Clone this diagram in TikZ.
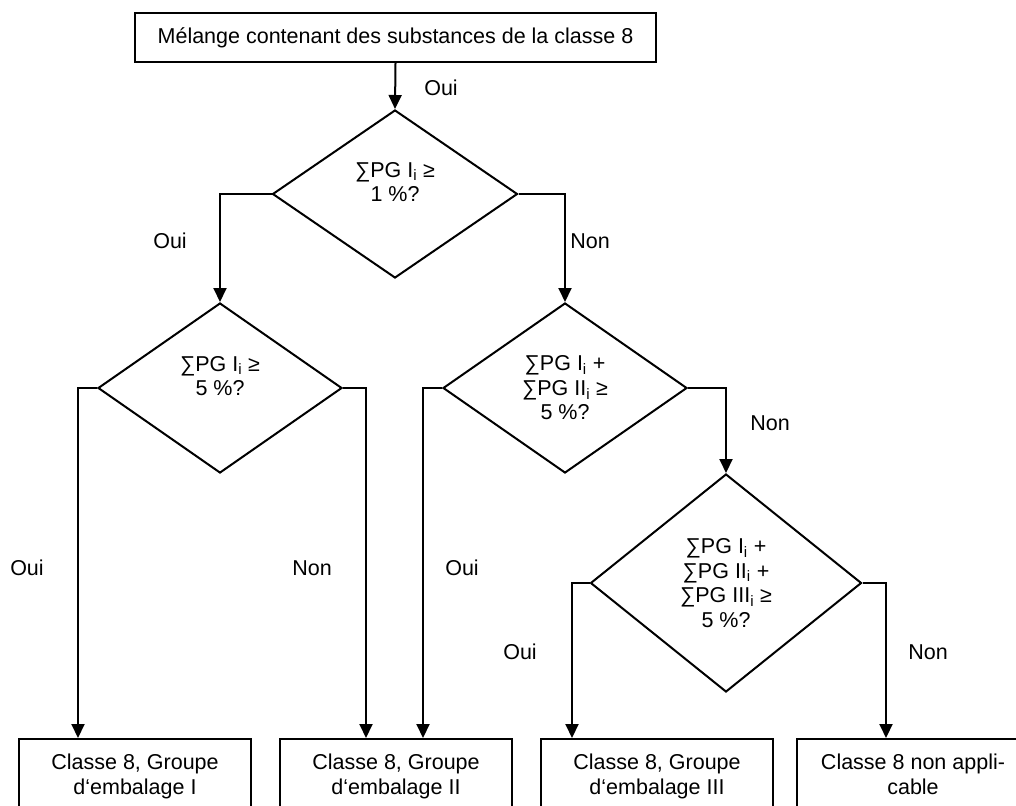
\documentclass[tikz,border=0pt]{standalone}
\usepackage{fontspec}
\setmainfont{Liberation Sans}
\usetikzlibrary{shapes.geometric,arrows.meta}
\begin{document}
\begin{tikzpicture}[x=1pt,y=-1pt,
	font=\fontsize{21.5}{24.5}\selectfont,
	line width=2pt,
	box/.style={draw, rectangle, inner sep=8pt, align=center},
	endbox/.style={box, anchor=north, inner ysep=15pt, minimum width=232pt, text depth=45pt},
	test/.style={draw, diamond, inner sep=0pt, align=center},
	arr/.style={-{Triangle[length=14pt,width=13pt]}}]
	\useasboundingbox (0,0) rectangle (1016,805);
	\clip (0,0) rectangle (1016,805);
	\node[box, minimum width=521pt, minimum height=49pt] (start) at (395.5,37.5) {Mélange contenant des substances de la classe 8};
	\node[test, minimum width=245pt, minimum height=168pt] (t1) at (395,194) {∑PG I\textsubscript{i} ≥\\1 \%?\\\mbox{}};
	\node[test, minimum width=244pt, minimum height=170pt] (t2) at (220,388) {∑PG I\textsubscript{i} ≥\\5 \%?\\\mbox{}};
	\node[test, minimum width=244pt, minimum height=170pt] (t3) at (565,388) {∑PG I\textsubscript{i} +\\∑PG II\textsubscript{i} ≥\\5 \%?};
	\node[test, minimum width=271pt, minimum height=218pt] (t4) at (726,583) {∑PG I\textsubscript{i} +\\∑PG II\textsubscript{i} +\\∑PG III\textsubscript{i} ≥\\5 \%?};
	\node[endbox] (b1) at (135,738) {Classe 8, Groupe\\d‘embalage I};
	\node[endbox] (b2) at (396,738) {Classe 8, Groupe\\d‘embalage II};
	\node[endbox] (b3) at (657,738) {Classe 8, Groupe\\d‘embalage III};
	\node[endbox] (b4) at (913,738) {Classe 8 non appli-\\cable};
	\draw[arr] (start.south) -- (t1.north);
	\draw[arr] (t1.west) -| (t2.north);
	\draw[arr] (t1.east) -| (t3.north);
	\draw[arr] (t2.west) -| ([xshift=-57pt]b1.north);
	\draw[arr] (t2.east) -| ([xshift=-30pt]b2.north);
	\draw[arr] (t3.west) -| ([xshift=27pt]b2.north);
	\draw[arr] (t3.east) -| (t4.north);
	\draw[arr] (t4.west) -| ([xshift=-85pt]b3.north);
	\draw[arr] (t4.east) -| ([xshift=-27pt]b4.north);
	\node (l0) at (441,88) {Oui};
	\node (l1) at (170,241) {Oui};
	\node (l2) at (590,241) {Non};
	\node (l3) at (770,423) {Non};
	\node (l4) at (27,568) {Oui};
	\node (l5) at (312,568) {Non};
	\node (l6) at (462,568) {Oui};
	\node (l7) at (520,652) {Oui};
	\node (l8) at (928,652) {Non};
\end{tikzpicture}
\end{document}
